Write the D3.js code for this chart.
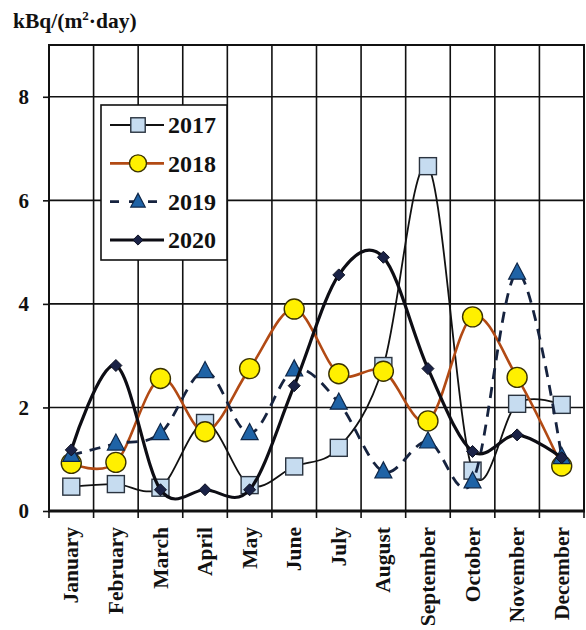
<!DOCTYPE html>
<html>
<head>
<meta charset="utf-8">
<script src="https://cdn.jsdelivr.net/npm/d3@7"></script>
<style>
  html, body { margin: 0; padding: 0; background: #fff; }
  svg { display: block; }
  text { font-family: "Liberation Serif", "Times New Roman", serif; font-weight: bold; fill: #111; }
</style>
</head>
<body>
<svg id="chart" width="586" height="630"></svg>
<script>
// Monthly deposition, kBq/(m²·day)
const months = ["January", "February", "March", "April", "May", "June",
                "July", "August", "September", "October", "November", "December"];
const years = ["2017", "2018", "2019", "2020"];
const values2017 = [0.47, 0.52, 0.45, 1.70, 0.50, 0.86, 1.22, 2.80, 6.66, 0.78, 2.07, 2.05];
const values2018 = [0.92, 0.94, 2.56, 1.53, 2.75, 3.90, 2.65, 2.70, 1.74, 3.75, 2.58, 0.87];
const values2019 = [1.08, 1.30, 1.50, 2.70, 1.50, 2.73, 2.09, 0.76, 1.34, 0.57, 4.60, 1.04];
const values2020 = [1.18, 2.81, 0.41, 0.41, 0.41, 2.42, 4.56, 4.90, 2.75, 1.15, 1.47, 1.03];
const yTicks = [0, 2, 4, 6, 8];

const svg = d3.select("#chart");
const plotLeft = 49, plotRight = 584, plotTop = 45, plotBottom = 511;

const x = d3.scaleBand().domain(months).range([plotLeft, plotRight]);
const y = d3.scaleLinear().domain([0, 9]).range([plotBottom, plotTop]);
const cx = m => x(m) + x.bandwidth() / 2;

// grid
const grid = svg.append("g");
grid.selectAll("line.h").data(yTicks.filter(t => t > 0)).join("line")
  .attr("x1", plotLeft).attr("x2", plotRight)
  .attr("y1", d => y(d)).attr("y2", d => y(d))
  .attr("stroke", "#111").attr("stroke-width", 1.6);
grid.selectAll("line.v").data(months.slice(1)).join("line")
  .attr("x1", d => x(d)).attr("x2", d => x(d))
  .attr("y1", plotTop).attr("y2", plotBottom)
  .attr("stroke", "#111").attr("stroke-width", 1.6);

// y axis
const yAxis = svg.append("g").attr("transform", `translate(${plotLeft},0)`)
  .call(d3.axisLeft(y).tickValues(yTicks).tickSize(6).tickPadding(14).tickFormat(d3.format("d")));
yAxis.select(".domain").remove();
yAxis.selectAll(".tick line").attr("stroke", "#111").attr("stroke-width", 1.6);
yAxis.selectAll(".tick text").attr("font-size", 21).attr("font-family", "Liberation Serif")
  .attr("font-weight", "bold").attr("fill", "#111");

// x axis boundary ticks and labels
const bounds = months.map(m => x(m)).concat([plotRight]);
svg.append("g").selectAll("line").data(bounds).join("line")
  .attr("x1", d => d).attr("x2", d => d)
  .attr("y1", plotBottom).attr("y2", plotBottom + 7)
  .attr("stroke", "#111").attr("stroke-width", 1.6);
svg.append("g").selectAll("text").data(months).join("text")
  .attr("transform", d => `translate(${cx(d)},${plotBottom + 16}) rotate(-90)`)
  .attr("text-anchor", "end").attr("dy", "0.33em")
  .attr("font-size", 21.5)
  .text(d => d);

// frame
svg.append("rect").attr("x", plotLeft).attr("y", plotTop)
  .attr("width", plotRight - plotLeft).attr("height", plotBottom - plotTop)
  .attr("fill", "none").attr("stroke", "#111").attr("stroke-width", 2);
svg.append("line").attr("x1", plotLeft - 1).attr("x2", plotRight + 1)
  .attr("y1", plotBottom).attr("y2", plotBottom)
  .attr("stroke", "#111").attr("stroke-width", 3);

// unit label
const title = svg.append("text").attr("x", 13).attr("y", 28).attr("font-size", 21.5);
title.append("tspan").text("kBq/(m");
title.append("tspan").attr("font-size", 13).attr("dy", -8).text("2");
title.append("tspan").attr("dy", 8).text("·day)");

// series styling
const series = [
  { name: years[0], values: values2017, line: "#111", width: 1.8, dash: null, shape: "square",
    fill: "#c6dcf0", stroke: "#2b3440" },
  { name: years[1], values: values2018, line: "#b24a14", width: 2.6, dash: null, shape: "circle",
    fill: "#fff000", stroke: "#3a3200" },
  { name: years[2], values: values2019, line: "#16233f", width: 2.8, dash: "11,8", shape: "triangle",
    fill: "#1f63a6", stroke: "#0f2748" },
  { name: years[3], values: values2020, line: "#0d0d14", width: 3.2, dash: null, shape: "diamond",
    fill: "#1a2246", stroke: "#0d1020" }
];

function drawMarker(g, s, px, py, scale = 1) {
  if (s.shape === "square") {
    const h = 8.5 * scale;
    g.append("rect").attr("x", px - h).attr("y", py - h).attr("width", 2 * h).attr("height", 2 * h)
      .attr("fill", s.fill).attr("stroke", s.stroke).attr("stroke-width", 1.4);
  } else if (s.shape === "circle") {
    g.append("circle").attr("cx", px).attr("cy", py).attr("r", 10 * scale)
      .attr("fill", s.fill).attr("stroke", s.stroke).attr("stroke-width", 1.4);
  } else if (s.shape === "triangle") {
    const w = 8.5 * scale;
    g.append("path").attr("d", `M${px},${py - w * 1.15}L${px + w},${py + w * 0.75}L${px - w},${py + w * 0.75}Z`)
      .attr("fill", s.fill).attr("stroke", s.stroke).attr("stroke-width", 1.2);
  } else {
    const w = 6 * scale;
    g.append("path").attr("d", `M${px},${py - w}L${px + w},${py}L${px},${py + w}L${px - w},${py}Z`)
      .attr("fill", s.fill).attr("stroke", s.stroke).attr("stroke-width", 1);
  }
}

const line = d3.line().x(d => cx(d.m)).y(d => y(d.v)).curve(d3.curveCardinal.tension(0));

series.forEach(s => {
  const pts = months.map((m, i) => ({ m, v: s.values[i] }));
  const g = svg.append("g");
  g.append("path").datum(pts).attr("d", line)
    .attr("fill", "none").attr("stroke", s.line).attr("stroke-width", s.width)
    .attr("stroke-dasharray", s.dash);
  pts.forEach(p => drawMarker(g, s, cx(p.m), y(p.v)));
});

// legend
const lg = svg.append("g");
lg.append("rect").attr("x", 101).attr("y", 105).attr("width", 126).attr("height", 155)
  .attr("fill", "#fff").attr("stroke", "#111").attr("stroke-width", 1.6);
const rowY = d3.scalePoint().domain(years).range([125, 240]);
series.forEach(s => {
  const ry = rowY(s.name);
  lg.append("line").attr("x1", 110).attr("x2", 164).attr("y1", ry).attr("y2", ry)
    .attr("stroke", s.line).attr("stroke-width", s.width)
    .attr("stroke-dasharray", s.dash ? "9,10" : null);
  drawMarker(lg, s, 138, ry, 0.85);
  lg.append("text").attr("x", 168).attr("y", ry).attr("dy", "0.35em")
    .attr("font-size", 24).text(s.name);
});
</script>
</body>
</html>
